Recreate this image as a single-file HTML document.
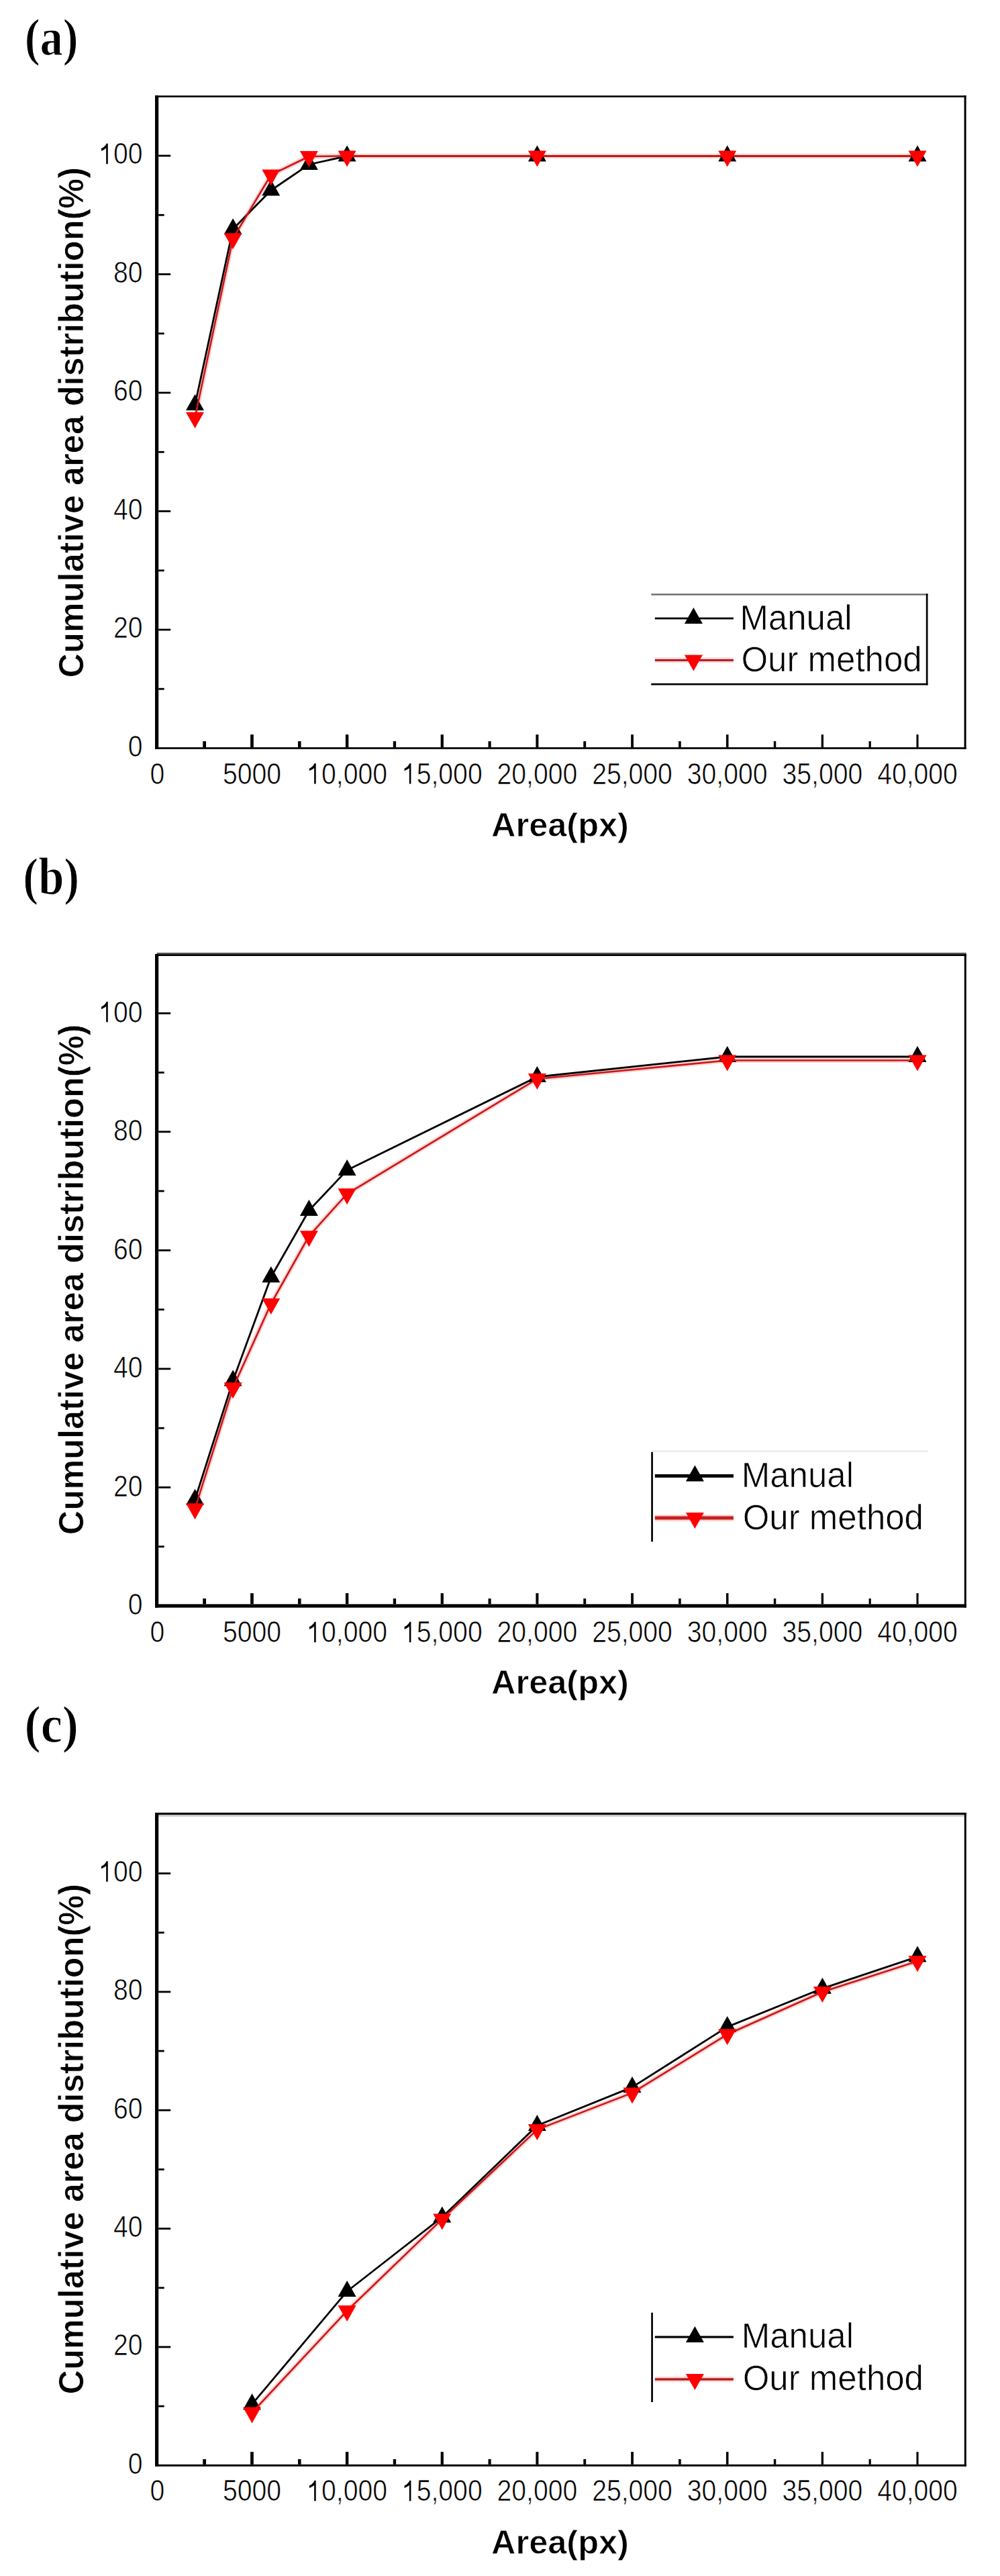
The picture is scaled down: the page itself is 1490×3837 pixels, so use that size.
<!DOCTYPE html>
<html><head><meta charset="utf-8"><style>
html,body{margin:0;padding:0;background:#fff;}
body{width:1490px;height:3837px;overflow:hidden;}
svg{display:block;}
text{font-family:"Liberation Sans",sans-serif;fill:#000;}
.tl{font-size:43.5px;stroke:#fff;stroke-width:0.7px;}
.tt{font-size:50.5px;font-weight:bold;stroke:#fff;stroke-width:0.8px;}
.lg{font-size:51px;stroke:#fff;stroke-width:0.7px;}
.h{fill:none;stroke:none;}
.pl{font-family:"Liberation Serif",serif;font-weight:bold;font-size:79px;stroke:#fff;stroke-width:1.1px;}
</style></head><body>
<svg width="1490" height="3837" viewBox="0 0 1490 3837">
<rect width="1490" height="3837" fill="#fff"/>
<g><text class="pl" transform="translate(39.8 82.0) scale(0.867 1)" x="-3.5" y="0">(a)</text>
<rect x="231" y="142.3" width="1208.6" height="2.7" fill="#000"/>
<rect x="231" y="142.3" width="5.2" height="973.5" fill="#000"/>
<rect x="1436.6" y="142.3" width="3.0" height="973.5" fill="#000"/>
<rect x="231" y="1113.1" width="1208.6" height="2.7" fill="#000"/>
<rect x="236.2" y="1024.8" width="8.5" height="2.8" fill="#000"/>
<rect x="236.2" y="936.6" width="18" height="2.8" fill="#000"/>
<rect x="236.2" y="848.4" width="8.5" height="2.8" fill="#000"/>
<rect x="236.2" y="760.1" width="18" height="2.8" fill="#000"/>
<rect x="236.2" y="671.9" width="8.5" height="2.8" fill="#000"/>
<rect x="236.2" y="583.6" width="18" height="2.8" fill="#000"/>
<rect x="236.2" y="495.4" width="8.5" height="2.8" fill="#000"/>
<rect x="236.2" y="407.1" width="18" height="2.8" fill="#000"/>
<rect x="236.2" y="318.9" width="8.5" height="2.8" fill="#000"/>
<rect x="236.2" y="230.6" width="18" height="2.8" fill="#000"/>
<rect x="302.23" y="1104.1" width="4.79" height="9" fill="#000"/>
<rect x="373.11" y="1094.1" width="4.68" height="19" fill="#000"/>
<rect x="443.99" y="1104.1" width="4.56" height="9" fill="#000"/>
<rect x="514.87" y="1094.1" width="4.45" height="19" fill="#000"/>
<rect x="585.76" y="1104.1" width="4.34" height="9" fill="#000"/>
<rect x="656.64" y="1094.1" width="4.23" height="19" fill="#000"/>
<rect x="727.52" y="1104.1" width="4.11" height="9" fill="#000"/>
<rect x="798.40" y="1094.1" width="4.00" height="19" fill="#000"/>
<rect x="869.28" y="1104.1" width="3.89" height="9" fill="#000"/>
<rect x="940.16" y="1094.1" width="3.78" height="19" fill="#000"/>
<rect x="1011.04" y="1104.1" width="3.66" height="9" fill="#000"/>
<rect x="1081.92" y="1094.1" width="3.55" height="19" fill="#000"/>
<rect x="1152.81" y="1104.1" width="3.44" height="9" fill="#000"/>
<rect x="1223.69" y="1094.1" width="3.33" height="19" fill="#000"/>
<rect x="1294.57" y="1104.1" width="3.21" height="9" fill="#000"/>
<rect x="1365.45" y="1094.1" width="3.10" height="19" fill="#000"/>
<g transform="translate(212.6 1126.7) scale(0.9 1)"><text class="tl" x="0" y="0" text-anchor="end">0</text></g>
<g transform="translate(212.6 950.2) scale(0.9 1)"><text class="tl" x="0" y="0" text-anchor="end">20</text></g>
<g transform="translate(212.6 773.7) scale(0.9 1)"><text class="tl" x="0" y="0" text-anchor="end">40</text></g>
<g transform="translate(212.6 597.2) scale(0.9 1)"><text class="tl" x="0" y="0" text-anchor="end">60</text></g>
<g transform="translate(212.6 420.7) scale(0.9 1)"><text class="tl" x="0" y="0" text-anchor="end">80</text></g>
<g transform="translate(212.6 244.2) scale(0.9 1)"><text class="tl" x="0" y="0" text-anchor="end"><tspan class="h">1</tspan>00</text><path d="M705 0H570V1110Q490 1050 400 1000Q300 945 190 910V1075Q340 1140 450 1240Q550 1330 600 1435H705Z" transform="translate(-72.58 0) scale(0.02124 -0.02124)" fill="#000"/></g>
<g transform="translate(234.4 1167.6) scale(0.9 1)"><text class="tl" x="0" y="0" text-anchor="middle">0</text></g>
<g transform="translate(375.5 1167.6) scale(0.9 1)"><text class="tl" x="0" y="0" text-anchor="middle">5000</text></g>
<g transform="translate(517.1 1167.6) scale(0.9 1)"><text class="tl" x="0" y="0" text-anchor="middle"><tspan class="h">1</tspan>0,000</text><path d="M705 0H570V1110Q490 1050 400 1000Q300 945 190 910V1075Q340 1140 450 1240Q550 1330 600 1435H705Z" transform="translate(-66.52 0) scale(0.02124 -0.02124)" fill="#000"/></g>
<g transform="translate(658.8 1167.6) scale(0.9 1)"><text class="tl" x="0" y="0" text-anchor="middle"><tspan class="h">1</tspan>5,000</text><path d="M705 0H570V1110Q490 1050 400 1000Q300 945 190 910V1075Q340 1140 450 1240Q550 1330 600 1435H705Z" transform="translate(-66.52 0) scale(0.02124 -0.02124)" fill="#000"/></g>
<g transform="translate(800.4 1167.6) scale(0.9 1)"><text class="tl" x="0" y="0" text-anchor="middle">20,000</text></g>
<g transform="translate(942.0 1167.6) scale(0.9 1)"><text class="tl" x="0" y="0" text-anchor="middle">25,000</text></g>
<g transform="translate(1083.7 1167.6) scale(0.9 1)"><text class="tl" x="0" y="0" text-anchor="middle">30,000</text></g>
<g transform="translate(1225.4 1167.6) scale(0.9 1)"><text class="tl" x="0" y="0" text-anchor="middle">35,000</text></g>
<g transform="translate(1367.0 1167.6) scale(0.9 1)"><text class="tl" x="0" y="0" text-anchor="middle">40,000</text></g>
<text class="tt" x="834.5" y="1245.5" text-anchor="middle">Area(px)</text>
<text class="tt" transform="translate(124.4 629.2) rotate(-90) scale(0.966 1)" x="0" y="0" text-anchor="middle" style="font-size:52.3px">Cumulative area distribution(%)</text>
<polyline points="290.5,622.1 347.1,355.2 403.8,260.5 460.4,233.0 517.1,232.4 800.4,232.4 1083.7,232.4 1367.0,232.4" fill="none" stroke="#ffd2d2" stroke-width="7" stroke-linejoin="round"/>
<polyline points="290.5,603.3 347.1,341.3 403.8,283.5 460.4,245.0 517.1,232.4 800.4,232.4 1083.7,232.4 1367.0,232.4" fill="none" stroke="#000" stroke-width="2.8" stroke-linejoin="round"/>
<path d="M290.5 587.3L304.0 611.3L277.0 611.3Z" fill="#000"/>
<path d="M347.1 325.3L360.6 349.3L333.6 349.3Z" fill="#000"/>
<path d="M403.8 267.5L417.3 291.5L390.3 291.5Z" fill="#000"/>
<path d="M460.4 229.0L473.9 253.0L446.9 253.0Z" fill="#000"/>
<path d="M517.1 216.4L530.6 240.4L503.6 240.4Z" fill="#000"/>
<path d="M800.4 216.4L813.9 240.4L786.9 240.4Z" fill="#000"/>
<path d="M1083.7 216.4L1097.2 240.4L1070.2 240.4Z" fill="#000"/>
<path d="M1367.0 216.4L1380.5 240.4L1353.5 240.4Z" fill="#000"/>
<polyline points="290.5,622.1 347.1,355.2 403.8,260.5 460.4,233.0 517.1,232.4 800.4,232.4 1083.7,232.4 1367.0,232.4" fill="none" stroke="#c81818" stroke-width="2.6" stroke-linejoin="round"/>
<path d="M277.0 614.1L304.0 614.1L290.5 638.1Z" fill="#ff0000"/>
<path d="M333.6 347.2L360.6 347.2L347.1 371.2Z" fill="#ff0000"/>
<path d="M390.3 252.5L417.3 252.5L403.8 276.5Z" fill="#ff0000"/>
<path d="M446.9 225.0L473.9 225.0L460.4 249.0Z" fill="#ff0000"/>
<path d="M503.6 224.4L530.6 224.4L517.1 248.4Z" fill="#ff0000"/>
<path d="M786.9 224.4L813.9 224.4L800.4 248.4Z" fill="#ff0000"/>
<path d="M1070.2 224.4L1097.2 224.4L1083.7 248.4Z" fill="#ff0000"/>
<path d="M1353.5 224.4L1380.5 224.4L1367.0 248.4Z" fill="#ff0000"/>
<rect x="970.2" y="884.3" width="412.3" height="2.4" fill="#6a6a6a"/>
<rect x="970.2" y="1017.8" width="412.3" height="2.7" fill="#000"/>
<rect x="1379.8" y="884.3" width="2.7" height="136.2" fill="#000"/>
<rect x="975.8" y="919.7" width="117.1" height="2.8" fill="#000"/>
<path d="M1033.4 905.1L1046.9 929.1L1019.9 929.1Z" fill="#000"/>
<rect x="975.8" y="979.5" width="117.1" height="7.8" fill="#ffd2d2"/>
<rect x="975.8" y="982.0" width="117.1" height="2.8" fill="#a8161b"/>
<path d="M1019.9 975.4L1046.9 975.4L1033.4 999.4Z" fill="#ff0000"/>
<text class="lg" x="1102.4" y="938.0">Manual</text>
<text class="lg" x="1104.4" y="999.7">Our method</text></g>
<g><text class="pl" transform="translate(37.4 1331.6) scale(0.867 1)" x="-3.5" y="0">(b)</text>
<rect x="233.6" y="1419" width="1206.2" height="2.2" fill="#555"/>
<rect x="231" y="1421.2" width="1208.8" height="2.8" fill="#000"/>
<rect x="231" y="1421.2" width="5.2" height="973.4" fill="#000"/>
<rect x="1436.8" y="1421.2" width="3.0" height="973.4" fill="#000"/>
<rect x="231" y="2389.4" width="1208.8" height="5.2" fill="#000"/>
<rect x="236.2" y="2302.3" width="8.5" height="2.8" fill="#000"/>
<rect x="236.2" y="2214.1" width="18" height="2.8" fill="#000"/>
<rect x="236.2" y="2125.8" width="8.5" height="2.8" fill="#000"/>
<rect x="236.2" y="2037.5" width="18" height="2.8" fill="#000"/>
<rect x="236.2" y="1949.2" width="8.5" height="2.8" fill="#000"/>
<rect x="236.2" y="1861.0" width="18" height="2.8" fill="#000"/>
<rect x="236.2" y="1772.7" width="8.5" height="2.8" fill="#000"/>
<rect x="236.2" y="1684.4" width="18" height="2.8" fill="#000"/>
<rect x="236.2" y="1596.2" width="8.5" height="2.8" fill="#000"/>
<rect x="236.2" y="1507.9" width="18" height="2.8" fill="#000"/>
<rect x="302.23" y="2381.0" width="4.79" height="8.4" fill="#000"/>
<rect x="373.11" y="2373.1" width="4.68" height="16.3" fill="#000"/>
<rect x="443.99" y="2381.0" width="4.56" height="8.4" fill="#000"/>
<rect x="514.87" y="2373.1" width="4.45" height="16.3" fill="#000"/>
<rect x="585.76" y="2381.0" width="4.34" height="8.4" fill="#000"/>
<rect x="656.64" y="2373.1" width="4.23" height="16.3" fill="#000"/>
<rect x="727.52" y="2381.0" width="4.11" height="8.4" fill="#000"/>
<rect x="798.40" y="2373.1" width="4.00" height="16.3" fill="#000"/>
<rect x="869.28" y="2381.0" width="3.89" height="8.4" fill="#000"/>
<rect x="940.16" y="2373.1" width="3.78" height="16.3" fill="#000"/>
<rect x="1011.04" y="2381.0" width="3.66" height="8.4" fill="#000"/>
<rect x="1081.92" y="2373.1" width="3.55" height="16.3" fill="#000"/>
<rect x="1152.81" y="2381.0" width="3.44" height="8.4" fill="#000"/>
<rect x="1223.69" y="2373.1" width="3.33" height="16.3" fill="#000"/>
<rect x="1294.57" y="2381.0" width="3.21" height="8.4" fill="#000"/>
<rect x="1365.45" y="2373.1" width="3.10" height="16.3" fill="#000"/>
<g transform="translate(212.6 2405.3) scale(0.9 1)"><text class="tl" x="0" y="0" text-anchor="end">0</text></g>
<g transform="translate(212.6 2228.8) scale(0.9 1)"><text class="tl" x="0" y="0" text-anchor="end">20</text></g>
<g transform="translate(212.6 2052.2) scale(0.9 1)"><text class="tl" x="0" y="0" text-anchor="end">40</text></g>
<g transform="translate(212.6 1875.7) scale(0.9 1)"><text class="tl" x="0" y="0" text-anchor="end">60</text></g>
<g transform="translate(212.6 1699.1) scale(0.9 1)"><text class="tl" x="0" y="0" text-anchor="end">80</text></g>
<g transform="translate(212.6 1522.6) scale(0.9 1)"><text class="tl" x="0" y="0" text-anchor="end"><tspan class="h">1</tspan>00</text><path d="M705 0H570V1110Q490 1050 400 1000Q300 945 190 910V1075Q340 1140 450 1240Q550 1330 600 1435H705Z" transform="translate(-72.58 0) scale(0.02124 -0.02124)" fill="#000"/></g>
<g transform="translate(234.4 2446.2) scale(0.9 1)"><text class="tl" x="0" y="0" text-anchor="middle">0</text></g>
<g transform="translate(375.5 2446.2) scale(0.9 1)"><text class="tl" x="0" y="0" text-anchor="middle">5000</text></g>
<g transform="translate(517.1 2446.2) scale(0.9 1)"><text class="tl" x="0" y="0" text-anchor="middle"><tspan class="h">1</tspan>0,000</text><path d="M705 0H570V1110Q490 1050 400 1000Q300 945 190 910V1075Q340 1140 450 1240Q550 1330 600 1435H705Z" transform="translate(-66.52 0) scale(0.02124 -0.02124)" fill="#000"/></g>
<g transform="translate(658.8 2446.2) scale(0.9 1)"><text class="tl" x="0" y="0" text-anchor="middle"><tspan class="h">1</tspan>5,000</text><path d="M705 0H570V1110Q490 1050 400 1000Q300 945 190 910V1075Q340 1140 450 1240Q550 1330 600 1435H705Z" transform="translate(-66.52 0) scale(0.02124 -0.02124)" fill="#000"/></g>
<g transform="translate(800.4 2446.2) scale(0.9 1)"><text class="tl" x="0" y="0" text-anchor="middle">20,000</text></g>
<g transform="translate(942.0 2446.2) scale(0.9 1)"><text class="tl" x="0" y="0" text-anchor="middle">25,000</text></g>
<g transform="translate(1083.7 2446.2) scale(0.9 1)"><text class="tl" x="0" y="0" text-anchor="middle">30,000</text></g>
<g transform="translate(1225.4 2446.2) scale(0.9 1)"><text class="tl" x="0" y="0" text-anchor="middle">35,000</text></g>
<g transform="translate(1367.0 2446.2) scale(0.9 1)"><text class="tl" x="0" y="0" text-anchor="middle">40,000</text></g>
<text class="tt" x="834.5" y="2523.2" text-anchor="middle">Area(px)</text>
<text class="tt" transform="translate(124.4 1905.9) rotate(-90) scale(0.966 1)" x="0" y="0" text-anchor="middle" style="font-size:52.3px">Cumulative area distribution(%)</text>
<polyline points="290.5,2247.2 347.1,2067.3 403.8,1942.0 460.4,1841.2 517.1,1778.3 800.4,1607.0 1083.7,1579.5 1367.0,1579.5" fill="none" stroke="#ffd2d2" stroke-width="7" stroke-linejoin="round"/>
<polyline points="290.5,2233.8 347.1,2056.6 403.8,1902.2 460.4,1803.0 517.1,1743.0 800.4,1604.0 1083.7,1574.0 1367.0,1574.0" fill="none" stroke="#000" stroke-width="2.8" stroke-linejoin="round"/>
<path d="M290.5 2217.8L304.0 2241.8L277.0 2241.8Z" fill="#000"/>
<path d="M347.1 2040.6L360.6 2064.6L333.6 2064.6Z" fill="#000"/>
<path d="M403.8 1886.2L417.3 1910.2L390.3 1910.2Z" fill="#000"/>
<path d="M460.4 1787.0L473.9 1811.0L446.9 1811.0Z" fill="#000"/>
<path d="M517.1 1727.0L530.6 1751.0L503.6 1751.0Z" fill="#000"/>
<path d="M800.4 1588.0L813.9 1612.0L786.9 1612.0Z" fill="#000"/>
<path d="M1083.7 1558.0L1097.2 1582.0L1070.2 1582.0Z" fill="#000"/>
<path d="M1367.0 1558.0L1380.5 1582.0L1353.5 1582.0Z" fill="#000"/>
<polyline points="290.5,2247.2 347.1,2067.3 403.8,1942.0 460.4,1841.2 517.1,1778.3 800.4,1607.0 1083.7,1579.5 1367.0,1579.5" fill="none" stroke="#c81818" stroke-width="2.6" stroke-linejoin="round"/>
<path d="M277.0 2239.2L304.0 2239.2L290.5 2263.2Z" fill="#ff0000"/>
<path d="M333.6 2059.3L360.6 2059.3L347.1 2083.3Z" fill="#ff0000"/>
<path d="M390.3 1934.0L417.3 1934.0L403.8 1958.0Z" fill="#ff0000"/>
<path d="M446.9 1833.2L473.9 1833.2L460.4 1857.2Z" fill="#ff0000"/>
<path d="M503.6 1770.3L530.6 1770.3L517.1 1794.3Z" fill="#ff0000"/>
<path d="M786.9 1599.0L813.9 1599.0L800.4 1623.0Z" fill="#ff0000"/>
<path d="M1070.2 1571.5L1097.2 1571.5L1083.7 1595.5Z" fill="#ff0000"/>
<path d="M1353.5 1571.5L1380.5 1571.5L1367.0 1595.5Z" fill="#ff0000"/>
<rect x="970.2" y="2162.8" width="2.7" height="133.6" fill="#000"/>
<rect x="970.2" y="2160.4" width="412.3" height="2.1" fill="#e6e6e6"/>
<rect x="975.8" y="2195.9" width="117.1" height="5" fill="#000"/>
<path d="M1035.4 2182.4L1048.9 2206.4L1021.9 2206.4Z" fill="#000"/>
<rect x="975.8" y="2256.0" width="117.1" height="10" fill="#ffd2d2"/>
<rect x="975.8" y="2258.5" width="117.1" height="5" fill="#c42020"/>
<path d="M1021.9 2253.0L1048.9 2253.0L1035.4 2277.0Z" fill="#ff0000"/>
<text class="lg" x="1104.7" y="2214.5">Manual</text>
<text class="lg" x="1106.7" y="2277.5">Our method</text></g>
<g><text class="pl" transform="translate(39.8 2594.6) scale(0.916 1)" x="-3.5" y="0">(c)</text>
<rect x="231" y="2700" width="1208.8" height="3.0" fill="#000"/>
<rect x="233.6" y="2703" width="1206.2" height="2.8" fill="#c4c4c4"/>
<rect x="231" y="2700" width="5.2" height="973.8" fill="#000"/>
<rect x="1436.8" y="2700" width="3.0" height="973.8" fill="#000"/>
<rect x="231" y="3670.8" width="1208.8" height="3.0" fill="#000"/>
<rect x="236.2" y="3582.7" width="8.5" height="2.8" fill="#000"/>
<rect x="236.2" y="3494.5" width="18" height="2.8" fill="#000"/>
<rect x="236.2" y="3406.4" width="8.5" height="2.8" fill="#000"/>
<rect x="236.2" y="3318.2" width="18" height="2.8" fill="#000"/>
<rect x="236.2" y="3230.0" width="8.5" height="2.8" fill="#000"/>
<rect x="236.2" y="3141.8" width="18" height="2.8" fill="#000"/>
<rect x="236.2" y="3053.6" width="8.5" height="2.8" fill="#000"/>
<rect x="236.2" y="2965.5" width="18" height="2.8" fill="#000"/>
<rect x="236.2" y="2877.3" width="8.5" height="2.8" fill="#000"/>
<rect x="236.2" y="2789.1" width="18" height="2.8" fill="#000"/>
<rect x="302.23" y="3663.0" width="4.79" height="7.8" fill="#000"/>
<rect x="373.11" y="3652.1" width="4.68" height="18.7" fill="#000"/>
<rect x="443.99" y="3663.0" width="4.56" height="7.8" fill="#000"/>
<rect x="514.87" y="3652.1" width="4.45" height="18.7" fill="#000"/>
<rect x="585.76" y="3663.0" width="4.34" height="7.8" fill="#000"/>
<rect x="656.64" y="3652.1" width="4.23" height="18.7" fill="#000"/>
<rect x="727.52" y="3663.0" width="4.11" height="7.8" fill="#000"/>
<rect x="798.40" y="3652.1" width="4.00" height="18.7" fill="#000"/>
<rect x="869.28" y="3663.0" width="3.89" height="7.8" fill="#000"/>
<rect x="940.16" y="3652.1" width="3.78" height="18.7" fill="#000"/>
<rect x="1011.04" y="3663.0" width="3.66" height="7.8" fill="#000"/>
<rect x="1081.92" y="3652.1" width="3.55" height="18.7" fill="#000"/>
<rect x="1152.81" y="3663.0" width="3.44" height="7.8" fill="#000"/>
<rect x="1223.69" y="3652.1" width="3.33" height="18.7" fill="#000"/>
<rect x="1294.57" y="3663.0" width="3.21" height="7.8" fill="#000"/>
<rect x="1365.45" y="3652.1" width="3.10" height="18.7" fill="#000"/>
<g transform="translate(212.6 3684.6) scale(0.9 1)"><text class="tl" x="0" y="0" text-anchor="end">0</text></g>
<g transform="translate(212.6 3508.2) scale(0.9 1)"><text class="tl" x="0" y="0" text-anchor="end">20</text></g>
<g transform="translate(212.6 3331.9) scale(0.9 1)"><text class="tl" x="0" y="0" text-anchor="end">40</text></g>
<g transform="translate(212.6 3155.5) scale(0.9 1)"><text class="tl" x="0" y="0" text-anchor="end">60</text></g>
<g transform="translate(212.6 2979.2) scale(0.9 1)"><text class="tl" x="0" y="0" text-anchor="end">80</text></g>
<g transform="translate(212.6 2802.8) scale(0.9 1)"><text class="tl" x="0" y="0" text-anchor="end"><tspan class="h">1</tspan>00</text><path d="M705 0H570V1110Q490 1050 400 1000Q300 945 190 910V1075Q340 1140 450 1240Q550 1330 600 1435H705Z" transform="translate(-72.58 0) scale(0.02124 -0.02124)" fill="#000"/></g>
<g transform="translate(234.4 3725.3) scale(0.9 1)"><text class="tl" x="0" y="0" text-anchor="middle">0</text></g>
<g transform="translate(375.5 3725.3) scale(0.9 1)"><text class="tl" x="0" y="0" text-anchor="middle">5000</text></g>
<g transform="translate(517.1 3725.3) scale(0.9 1)"><text class="tl" x="0" y="0" text-anchor="middle"><tspan class="h">1</tspan>0,000</text><path d="M705 0H570V1110Q490 1050 400 1000Q300 945 190 910V1075Q340 1140 450 1240Q550 1330 600 1435H705Z" transform="translate(-66.52 0) scale(0.02124 -0.02124)" fill="#000"/></g>
<g transform="translate(658.8 3725.3) scale(0.9 1)"><text class="tl" x="0" y="0" text-anchor="middle"><tspan class="h">1</tspan>5,000</text><path d="M705 0H570V1110Q490 1050 400 1000Q300 945 190 910V1075Q340 1140 450 1240Q550 1330 600 1435H705Z" transform="translate(-66.52 0) scale(0.02124 -0.02124)" fill="#000"/></g>
<g transform="translate(800.4 3725.3) scale(0.9 1)"><text class="tl" x="0" y="0" text-anchor="middle">20,000</text></g>
<g transform="translate(942.0 3725.3) scale(0.9 1)"><text class="tl" x="0" y="0" text-anchor="middle">25,000</text></g>
<g transform="translate(1083.7 3725.3) scale(0.9 1)"><text class="tl" x="0" y="0" text-anchor="middle">30,000</text></g>
<g transform="translate(1225.4 3725.3) scale(0.9 1)"><text class="tl" x="0" y="0" text-anchor="middle">35,000</text></g>
<g transform="translate(1367.0 3725.3) scale(0.9 1)"><text class="tl" x="0" y="0" text-anchor="middle">40,000</text></g>
<text class="tt" x="834.5" y="3803.7" text-anchor="middle">Area(px)</text>
<text class="tt" transform="translate(124.4 3186.2) rotate(-90) scale(0.966 1)" x="0" y="0" text-anchor="middle" style="font-size:52.3px">Cumulative area distribution(%)</text>
<polyline points="375.5,3593.6 517.1,3442.0 658.8,3305.4 800.4,3172.1 942.0,3117.4 1083.7,3030.3 1225.4,2967.0 1367.0,2921.3" fill="none" stroke="#ffd2d2" stroke-width="7" stroke-linejoin="round"/>
<polyline points="375.5,3581.2 517.1,3413.0 658.8,3302.5 800.4,3166.0 942.0,3108.9 1083.7,3019.1 1225.4,2961.8 1367.0,2914.6" fill="none" stroke="#000" stroke-width="2.8" stroke-linejoin="round"/>
<path d="M375.5 3565.2L389.0 3589.2L362.0 3589.2Z" fill="#000"/>
<path d="M517.1 3397.0L530.6 3421.0L503.6 3421.0Z" fill="#000"/>
<path d="M658.8 3286.5L672.2 3310.5L645.2 3310.5Z" fill="#000"/>
<path d="M800.4 3150.0L813.9 3174.0L786.9 3174.0Z" fill="#000"/>
<path d="M942.0 3092.9L955.5 3116.9L928.5 3116.9Z" fill="#000"/>
<path d="M1083.7 3003.1L1097.2 3027.1L1070.2 3027.1Z" fill="#000"/>
<path d="M1225.4 2945.8L1238.9 2969.8L1211.9 2969.8Z" fill="#000"/>
<path d="M1367.0 2898.6L1380.5 2922.6L1353.5 2922.6Z" fill="#000"/>
<polyline points="375.5,3593.6 517.1,3442.0 658.8,3305.4 800.4,3172.1 942.0,3117.4 1083.7,3030.3 1225.4,2967.0 1367.0,2921.3" fill="none" stroke="#c81818" stroke-width="2.6" stroke-linejoin="round"/>
<path d="M362.0 3585.6L389.0 3585.6L375.5 3609.6Z" fill="#ff0000"/>
<path d="M503.6 3434.0L530.6 3434.0L517.1 3458.0Z" fill="#ff0000"/>
<path d="M645.2 3297.4L672.2 3297.4L658.8 3321.4Z" fill="#ff0000"/>
<path d="M786.9 3164.1L813.9 3164.1L800.4 3188.1Z" fill="#ff0000"/>
<path d="M928.5 3109.4L955.5 3109.4L942.0 3133.4Z" fill="#ff0000"/>
<path d="M1070.2 3022.3L1097.2 3022.3L1083.7 3046.3Z" fill="#ff0000"/>
<path d="M1211.9 2959.0L1238.9 2959.0L1225.4 2983.0Z" fill="#ff0000"/>
<path d="M1353.5 2913.3L1380.5 2913.3L1367.0 2937.3Z" fill="#ff0000"/>
<rect x="970.2" y="3444.7" width="2.7" height="133.3" fill="#000"/>
<rect x="975.8" y="3479.4" width="117.1" height="3.2" fill="#000"/>
<path d="M1035.4 3465.0L1048.9 3489.0L1021.9 3489.0Z" fill="#000"/>
<rect x="975.8" y="3539.9" width="117.1" height="8.2" fill="#ffd2d2"/>
<rect x="975.8" y="3542.4" width="117.1" height="3.2" fill="#a81818"/>
<path d="M1021.9 3536.0L1048.9 3536.0L1035.4 3560.0Z" fill="#ff0000"/>
<text class="lg" x="1104.7" y="3497.3">Manual</text>
<text class="lg" x="1106.7" y="3560.3">Our method</text></g>
</svg></body></html>
